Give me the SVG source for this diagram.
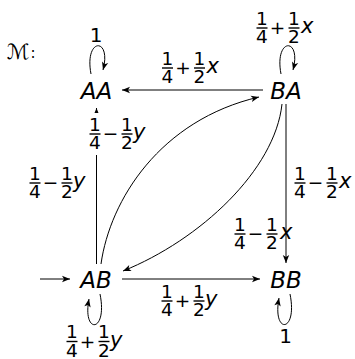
<svg xmlns="http://www.w3.org/2000/svg" width="355" height="359" viewBox="0 0 355 359">
<defs>
<style>
.nd{font-family:"DejaVu Sans",sans-serif;font-style:italic;font-size:23px;text-anchor:middle;fill:#000}
.d{font-family:"DejaVu Sans",sans-serif;font-size:18.5px;text-anchor:middle;fill:#000}
.one{font-family:"DejaVu Sans",sans-serif;font-size:20px;text-anchor:middle;fill:#000}
.v{font-family:"DejaVu Sans",sans-serif;font-style:italic;font-size:21px;fill:#000}
.bar{stroke:#000;stroke-width:1.4}
.e{stroke:#000;stroke-width:1;fill:none;marker-end:url(#arr)}
</style>
<marker id="arr" markerWidth="10" markerHeight="8" viewBox="-9 -4 10 8" refX="0" refY="0" orient="auto" markerUnits="userSpaceOnUse">
<path d="M0,0 L-8,-3.2 L-6,0 L-8,3.2 Z" fill="#000"/>
</marker>
</defs>
<rect width="355" height="359" fill="#fff"/>
<text x="7" y="59" font-family="DejaVu Sans,sans-serif" font-size="21">ℳ<tspan font-size="15" dx="1" dy="-1">:</tspan></text>

<g id="connectors">
<line class="e" x1="40" y1="279" x2="70" y2="279"/>
<line class="e" x1="263" y1="90" x2="122" y2="90"/>
<line class="e" x1="122" y1="279" x2="260" y2="279"/>
<line class="e" x1="286" y1="104" x2="286" y2="263"/>
<line class="e" x1="96.5" y1="264" x2="96.5" y2="108"/>
<path class="e" d="M101,264 C110,200 160,120 259,97"/>
<path class="e" d="M282,104 C275,170 200,240 123,271"/>
<path class="e" d="M91,74 C84,37 112,37 103,70"/>
<path class="e" d="M281,74 C274,37 302,37 293,70"/>
<path class="e" d="M100,294 C108,333 82,335 89,299"/>
<path class="e" d="M290,294 C298,333 272,335 279,298"/>
</g>

<g id="AA"><text class="nd" x="96.5" y="99">AA</text></g>
<g id="BA"><text class="nd" x="286" y="99">BA</text></g>
<g id="AB"><text class="nd" x="96" y="288">AB</text></g>
<g id="BB"><text class="nd" x="286" y="288">BB</text></g>

<g id="labels">
<text class="one" x="96" y="42">1</text>
<text class="one" x="285.5" y="343">1</text>

<g transform="translate(262,28)">
<text class="d" x="0" y="-3.5">1</text><line class="bar" x1="-5.5" y1="0" x2="5.5" y2="0"/><text class="d" x="0" y="15">4</text>
<text class="d" x="15.5" y="6">+</text>
<text class="d" x="32" y="-3.5">1</text><line class="bar" x1="26.5" y1="0" x2="37.5" y2="0"/><text class="d" x="32" y="15">2</text>
<text class="v" x="39" y="5">x</text>
</g>

<g transform="translate(167.5,68)">
<text class="d" x="0" y="-3.5">1</text><line class="bar" x1="-5.5" y1="0" x2="5.5" y2="0"/><text class="d" x="0" y="15">4</text>
<text class="d" x="15.5" y="6">+</text>
<text class="d" x="32" y="-3.5">1</text><line class="bar" x1="26.5" y1="0" x2="37.5" y2="0"/><text class="d" x="32" y="15">2</text>
<text class="v" x="39" y="5">x</text>
</g>

<rect x="86" y="113" width="64" height="42" fill="#fff"/>
<g transform="translate(95,134)">
<text class="d" x="0" y="-3.5">1</text><line class="bar" x1="-5.5" y1="0" x2="5.5" y2="0"/><text class="d" x="0" y="15">4</text>
<text class="d" x="15.5" y="6">−</text>
<text class="d" x="32" y="-3.5">1</text><line class="bar" x1="26.5" y1="0" x2="37.5" y2="0"/><text class="d" x="32" y="15">2</text>
<text class="v" x="38" y="5">y</text>
</g>

<g transform="translate(35,183)">
<text class="d" x="0" y="-3.5">1</text><line class="bar" x1="-5.5" y1="0" x2="5.5" y2="0"/><text class="d" x="0" y="15">4</text>
<text class="d" x="15.5" y="6">−</text>
<text class="d" x="32" y="-3.5">1</text><line class="bar" x1="26.5" y1="0" x2="37.5" y2="0"/><text class="d" x="32" y="15">2</text>
<text class="v" x="38" y="5">y</text>
</g>

<g transform="translate(300,183)">
<text class="d" x="0" y="-3.5">1</text><line class="bar" x1="-5.5" y1="0" x2="5.5" y2="0"/><text class="d" x="0" y="15">4</text>
<text class="d" x="15.5" y="6">−</text>
<text class="d" x="32" y="-3.5">1</text><line class="bar" x1="26.5" y1="0" x2="37.5" y2="0"/><text class="d" x="32" y="15">2</text>
<text class="v" x="39" y="5">x</text>
</g>

<g transform="translate(240,234)">
<text class="d" x="0" y="-3.5">1</text><line class="bar" x1="-5.5" y1="0" x2="5.5" y2="0"/><text class="d" x="0" y="15">4</text>
<text class="d" x="15.5" y="6">−</text>
<text class="d" x="32" y="-3.5">1</text><line class="bar" x1="26.5" y1="0" x2="37.5" y2="0"/><text class="d" x="32" y="15">2</text>
<text class="v" x="40" y="5">x</text>
</g>

<g transform="translate(167,301)">
<text class="d" x="0" y="-3.5">1</text><line class="bar" x1="-5.5" y1="0" x2="5.5" y2="0"/><text class="d" x="0" y="15">4</text>
<text class="d" x="15.5" y="6">+</text>
<text class="d" x="32" y="-3.5">1</text><line class="bar" x1="26.5" y1="0" x2="37.5" y2="0"/><text class="d" x="32" y="15">2</text>
<text class="v" x="38" y="5">y</text>
</g>

<g transform="translate(72,341.5)">
<text class="d" x="0" y="-3.5">1</text><line class="bar" x1="-5.5" y1="0" x2="5.5" y2="0"/><text class="d" x="0" y="15">4</text>
<text class="d" x="15.5" y="6">+</text>
<text class="d" x="32" y="-3.5">1</text><line class="bar" x1="26.5" y1="0" x2="37.5" y2="0"/><text class="d" x="32" y="15">2</text>
<text class="v" x="38" y="5">y</text>
</g>
</g>
</svg>
